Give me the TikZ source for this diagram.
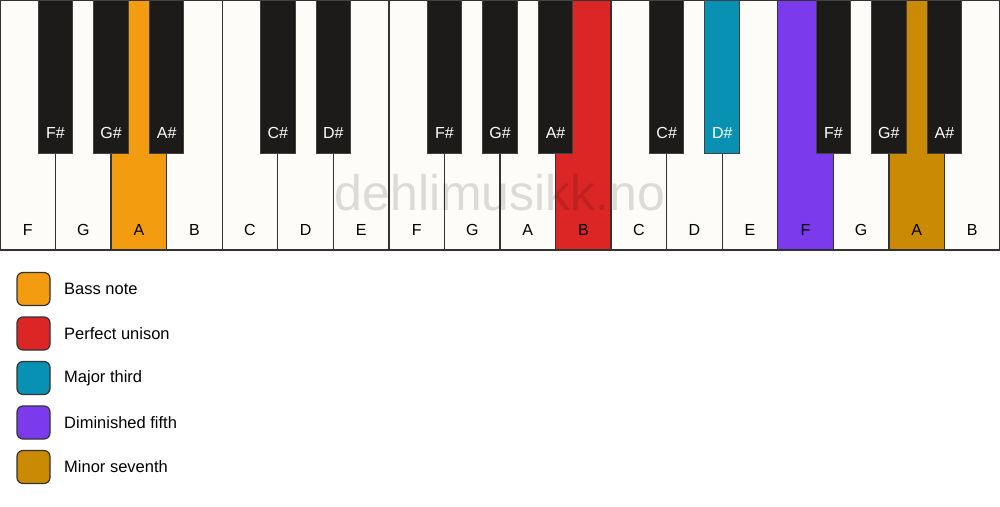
\documentclass[tikz,border=0pt]{standalone}
\usepackage{fontspec}
\setmainfont{Liberation Sans}
\definecolor{ivory}{HTML}{FDFCF8}
\definecolor{keyblack}{HTML}{1C1B1A}
\definecolor{edge}{HTML}{333333}
\definecolor{cbass}{HTML}{F39C0F}
\definecolor{cunison}{HTML}{DC2626}
\definecolor{cthird}{HTML}{0891B2}
\definecolor{cfifth}{HTML}{7C3AED}
\definecolor{cseventh}{HTML}{CA8A04}
\begin{document}
\begin{tikzpicture}[x=1pt,y=-1pt,
  whitekey/.style={draw=edge,line width=1.3pt,fill=ivory},
  blackkey/.style={draw=edge!80!gray,line width=1pt,fill=keyblack},
  wlabel/.style={font=\fontsize{16}{19}\selectfont,text=black},
  blabel/.style={font=\fontsize{16}{19}\selectfont,text=white},
  legbox/.style={draw=edge,line width=1.2pt,rounded corners=6pt,minimum width=33pt,minimum height=33pt,inner sep=0pt},
  legtext/.style={font=\fontsize{16.5}{20}\selectfont,anchor=west,inner sep=0pt}]
\path[use as bounding box,fill=white] (0,0) rectangle (1000,506);
% white keys
\foreach \i/\n/\c in {0/F/ivory,1/G/ivory,2/A/cbass,3/B/ivory,4/C/ivory,5/D/ivory,6/E/ivory,7/F/ivory,8/G/ivory,9/A/ivory,10/B/cunison,11/C/ivory,12/D/ivory,13/E/ivory,14/F/cfifth,15/G/ivory,16/A/cseventh,17/B/ivory}{
  \draw[whitekey,fill=\c] ({\i*55.5556},0) rectangle ({(\i+1)*55.5556},250);
  \node[wlabel] (w\i) at ({(\i+0.5)*55.5556},230) {\n};
}
% watermark
\node[text=black,text opacity=0.13,font=\fontsize{50}{56}\selectfont] (wm) at (500,193) {dehlimusikk.no};
% black keys
\foreach \k/\n/\c in {1/F\#/keyblack,2/G\#/keyblack,3/A\#/keyblack,5/C\#/keyblack,6/D\#/keyblack,8/F\#/keyblack,9/G\#/keyblack,10/A\#/keyblack,12/C\#/keyblack,13/D\#/cthird,15/F\#/keyblack,16/G\#/keyblack,17/A\#/keyblack}{
  \draw[blackkey,fill=\c] ({\k*55.5556-17.3},0) rectangle ({\k*55.5556+17.3},153);
  \node[blabel] (b\k) at ({\k*55.5556},133) {\n};
}
% legend
\foreach \j/\c/\t in {0/cbass/Bass note,1/cunison/Perfect unison,2/cthird/Major third,3/cfifth/Diminished fifth,4/cseventh/Minor seventh}{
  \node[legbox,fill=\c] (lb\j) at (33.5,{289+\j*44.5}) {};
  \node[legtext] (lt\j) at (64,{289+\j*44.5}) {\t};
}
\end{tikzpicture}
\end{document}
